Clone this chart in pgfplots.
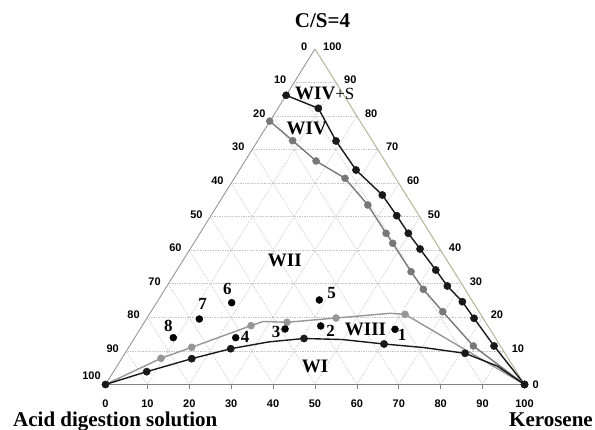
\documentclass[border=0pt]{standalone}
\usepackage{pgfplots}
\pgfplotsset{compat=1.18}
\usepackage{fontspec}
\setmainfont{Liberation Serif}
\setsansfont{Liberation Sans}
\definecolor{edgeL}{RGB}{150,150,150}
\definecolor{edgeR}{RGB}{184,178,150}
\definecolor{edgeB}{RGB}{130,130,130}
\definecolor{gridc}{RGB}{195,195,195}
\definecolor{curveB}{RGB}{25,25,25}
\definecolor{curveG}{RGB}{120,120,120}
\definecolor{curveL}{RGB}{150,150,150}
\begin{document}
\begin{tikzpicture}[x=1pt,y=1pt]
\useasboundingbox (-105.5,-45.5) rectangle (489.5,384.5);
\def\W{4.19}\def\H{3.355}
% grid
\foreach \c in {10,20,...,90}{
  \draw[gridc, densely dotted, line width=0.7pt] ({\c/2*\W},{\c*\H}) -- ({(100-\c/2)*\W},{\c*\H});
  \draw[gridc, densely dotted, line width=0.7pt] ({\c*\W},0) -- ({(100+\c)/2*\W},{(100-\c)*\H});
  \draw[gridc, densely dotted, line width=0.7pt] ({\c*\W},0) -- ({\c/2*\W},{\c*\H});
}
% edges
\draw[edgeL, line width=0.9pt] (0,0) -- ({50*\W},{100*\H});
\draw[edgeR, line width=1pt] ({50*\W},{100*\H}) -- ({100*\W},0);
\draw[edgeB, line width=1.3pt] (0,0) -- ({100*\W},0);
\foreach \k in {10,20,...,90}{\draw[edgeB, line width=0.7pt] ({\k*\W},-1) -- ({\k*\W},-4.5);}

\begin{axis}[
  at={(0,0)}, anchor=south west, scale only axis,
  width=419pt, height=335.5pt,
  xmin=0, xmax=100, ymin=0, ymax=100,
  axis lines=none, clip=false,
]
% WIV+S boundary (black)
\addplot[curveB, line width=1.4pt, mark=*, mark size=3.6pt, mark options={fill=curveB, line width=0.5pt}] coordinates {
 (43.1,86.2) (50.80,82.32) (55.02,72.58) (59.79,63.93) (66.07,56.48) (69.51,50.31)
 (72.28,45.07) (75.07,40.39) (78.82,34.13) (81.59,29.36) (85.17,24.68) (87.96,19.73)
 (92.74,11.48) (100,0)};
% WIV boundary (gray)
\addplot[curveG, line width=1.4pt, mark=*, mark size=3.5pt, mark options={fill=curveG, line width=0.5pt}] coordinates {
 (39.2,78.5) (44.68,72.67) (50.25,66.62) (57.17,61.46) (62.61,53.50) (66.96,45.07)
 (68.55,42.09) (72.92,33.62) (75.86,28.38) (80.49,21.70) (87.79,11.48)};
\addplot[curveG, line width=1.4pt] coordinates {(87.79,11.48) (100,0)};
% WIII boundary (light gray)
\addplot[curveL, line width=1.4pt] coordinates {
 (0,0) (13.25,7.81) (20.58,11.09) (34.73,17.53) (37.6,18.78) (43.32,18.54) (55.02,19.82)
 (67.91,21.22) (71.49,20.92) (100,0)};
\addplot[only marks, curveL, mark=*, mark size=3.5pt, mark options={fill=curveL, line width=0.5pt}] coordinates {
 (13.25,7.81) (20.58,11.09) (34.73,17.53) (43.32,18.54) (55.02,19.82) (71.49,20.92)};
% WI boundary (black)
\addplot[curveB, line width=1.4pt] coordinates {
 (0,0) (9.83,3.82) (20.58,7.69) (29.89,10.67) (39.0,12.7) (47.38,13.71) (56.5,13.4)
 (66.48,12.07) (76.0,11.0) (85.81,9.30) (93.5,5.5) (100,0)};
\addplot[only marks, curveB, mark=*, mark size=3.6pt, mark options={fill=curveB, line width=0.5pt}] coordinates {
 (0,0) (9.83,3.82) (20.58,7.69) (29.89,10.67) (47.38,13.71) (66.48,12.07) (85.81,9.30) (100,0)};
% numbered samples
\addplot[only marks, black, mark=*, mark size=3.5pt] coordinates {
 (16.18,13.95) (22.39,19.52) (30.12,24.38) (31.08,13.95) (42.85,16.54) (51.03,25.19)
 (51.37,17.44) (69.10,16.45)};
\end{axis}

% tick labels
\begingroup
\sffamily\bfseries\fontsize{11}{13}\selectfont
\foreach \k in {0,10,...,100}{\node[inner sep=0] at ({\k*\W},-18.8) {\k};}
\foreach \c [evaluate=\c as \l using int(100-\c)] in {10,20,...,100}{
  \node[anchor=east, inner sep=0] at ({\c/2*\W-7.5},{\c*\H+2.5}) {\l};}
\node[anchor=east, inner sep=0] at (-4.6,8.5) {100};
\foreach \c in {10,20,...,100}{
  \node[anchor=west, inner sep=0] at ({(100-\c/2)*\W+8},{\c*\H+2.5}) {\c};}
\node[anchor=west, inner sep=0] at ({100*\W+8},0) {0};
\endgroup

% axis titles
\node[anchor=base, inner sep=0, font=\bfseries\fontsize{21}{24}\selectfont] at (217,356.5) {C/S=4};
\node[anchor=base west, inner sep=0, font=\bfseries\fontsize{21}{24}\selectfont] at (-92.5,-42.2) {Acid digestion solution};
\node[anchor=base east, inner sep=0, font=\bfseries\fontsize{21}{24}\selectfont] at (487.5,-42.2) {Kerosene};

% region labels
\begingroup
\bfseries\fontsize{19}{22}\selectfont
\node[anchor=base west, inner sep=0] at (189.5,284.5) {WIV{\mdseries\fontsize{17}{20}\selectfont +S}};
\node[inner sep=0] at (201.2,255.7) {WIV};
\node[inner sep=0] at (179.3,123.8) {WII};
\node[inner sep=0] at (260,55.5) {WIII};
\node[inner sep=0] at (209.5,17.8) {WI};
\endgroup

% sample numbers
\begingroup
\bfseries\fontsize{17}{20}\selectfont
\node[inner sep=0] at (62.8,58.5) {8};
\node[inner sep=0] at (97.2,80.2) {7};
\node[inner sep=0] at (121.8,95.2) {6};
\node[inner sep=0] at (139.5,47.2) {4};
\node[inner sep=0] at (170.5,52.8) {3};
\node[inner sep=0] at (226.2,91.2) {5};
\node[inner sep=0] at (225.2,53.8) {2};
\node[inner sep=0] at (296.5,50) {1};
\endgroup
\end{tikzpicture}
\end{document}
